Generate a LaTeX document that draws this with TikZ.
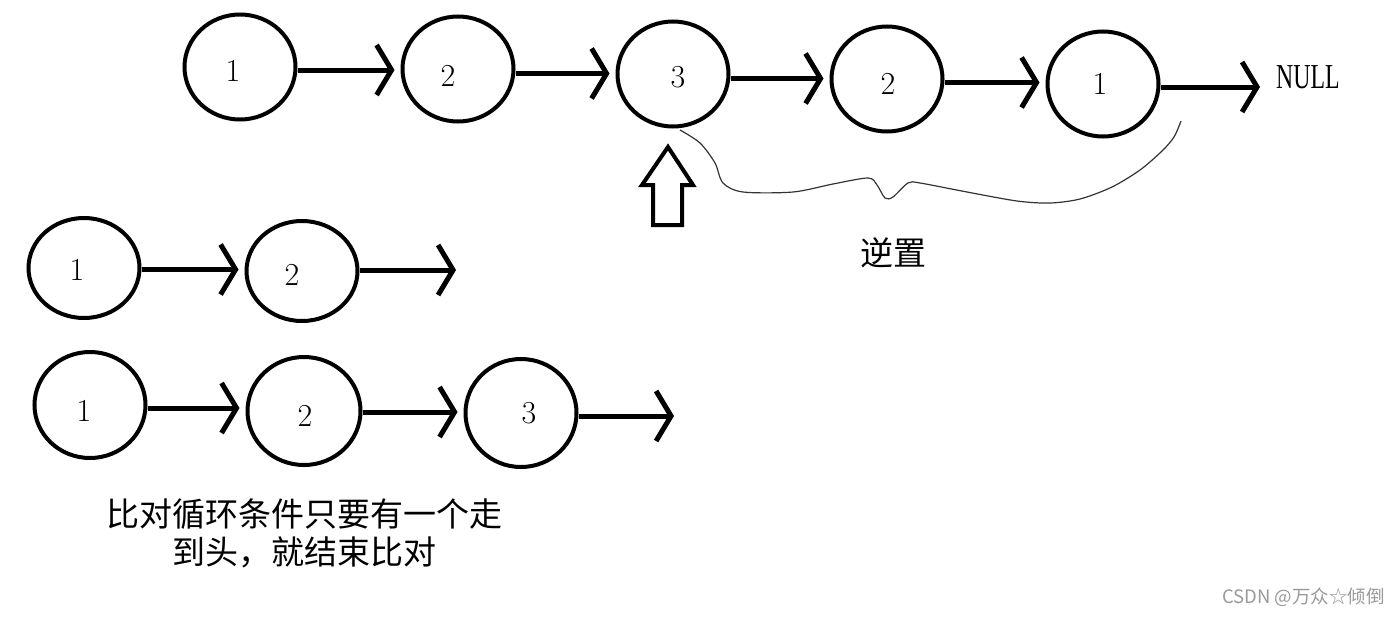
\documentclass[tikz,border=0pt]{standalone}
\usepackage{fontspec}
\setmainfont{Latin Modern Roman}
\newfontfamily\cjk{Noto Sans CJK SC}
\newfontfamily\narrowserif[FakeStretch=0.68]{Liberation Serif}
\usetikzlibrary{shapes.geometric,arrows.meta,calc}
\begin{document}
\begin{tikzpicture}[x=1pt,y=-1pt,
  nodebox/.style={ellipse,draw,line width=4pt,inner sep=0pt,
    minimum width=111pt,minimum height=105pt},
  digit/.style={font=\fontsize{32}{36}\selectfont,inner sep=0pt},
  link/.style={line width=5pt,shorten >=6pt,
    -{Straight Barb[length=15pt,width=50pt]}},
  tail/.style={line width=5pt,
    -{Straight Barb[length=15pt,width=50pt]}},
  cjktext/.style={font=\cjk\fontsize{33}{38}\selectfont,align=center,inner sep=0pt},
  brace/.style={line width=1.2pt,draw=black!80},
  hollow/.style={draw,line width=4pt,line join=miter,fill=white},
  wmark/.style={font=\cjk\fontsize{18.5}{22}\selectfont,text=black!40,inner sep=0pt}
]
\useasboundingbox (0,0) rectangle (1400,616);

% top row
\node[nodebox,label={[digit,xshift=-7pt,yshift=-4pt]center:1}] (a1) at (240,67) {};
\node[nodebox,label={[digit,xshift=-10pt,yshift=-7pt]center:2}] (a2) at (458,69) {};
\node[nodebox,label={[digit,xshift=5pt,yshift=-3pt]center:3}] (a3) at (673,74) {};
\node[nodebox,label={[digit,xshift=1pt,yshift=-5pt]center:2}] (a4) at (887,79) {};
\node[nodebox,label={[digit,xshift=-3pt,yshift=0pt]center:1}] (a5) at (1103,84) {};
\coordinate (aend) at (1260,87);
\node[font=\narrowserif\fontsize{35}{40}\selectfont,anchor=west,inner sep=0pt] (null) at (1276,77) {NULL};
\coordinate (m12) at ($(a1)!0.5!(a2)+(0,2)$);
\coordinate (m23) at ($(a2)!0.5!(a3)+(0,2)$);
\coordinate (m34) at ($(a3)!0.5!(a4)+(0,2)$);
\coordinate (m45) at ($(a4)!0.5!(a5)+(0,1)$);
\draw[link] (a1.east |- m12) -- (a2.west |- m12);
\draw[link] (a2.east |- m23) -- (a3.west |- m23);
\draw[link] (a3.east |- m34) -- (a4.west |- m34);
\draw[link] (a4.east |- m45) -- (a5.west |- m45);
\draw[tail] (a5.east |- aend) -- (aend);

% hollow up arrow
\draw[hollow] (668,147) -- (693,185) -- (682,185) -- (682,225) -- (653,225)
  -- (653,185) -- (642,185) -- cycle;

% brace-like curve
\draw[brace] plot[smooth,tension=0.5] coordinates {
  (680,130) (700,143) (715,163) (723,183) (743,192) (793,192) (833,184)
  (868,178) (877,185) (885,198) (893,197) (908,183) (920,183) (967,192)
  (1017,201) (1050,203) (1080,199) (1112,187) (1140,170) (1162,151)
  (1174,137) (1181,121)};
\node[cjktext] (rev) at (893,253) {逆置};

% middle row
\node[nodebox,minimum height=100pt,label={[digit,xshift=-7pt,yshift=-2pt]center:1}] (b1) at (84,268) {};
\node[nodebox,minimum height=100pt,label={[digit,xshift=-10pt,yshift=-4pt]center:2}] (b2) at (302,271) {};
\coordinate (bend) at (456,270);
\coordinate (m1b) at ($(b1)!0.5!(b2)$);
\draw[link] (b1.east |- m1b) -- (b2.west |- m1b);
\draw[tail] (b2.east |- bend) -- (bend);

% bottom row
\node[nodebox,minimum height=106pt,label={[digit,xshift=-6pt,yshift=-6pt]center:1}] (c1) at (90,405) {};
\node[nodebox,minimum width=113pt,minimum height=108pt,label={[digit,xshift=1pt,yshift=-5pt]center:2}] (c2) at (304,411) {};
\node[nodebox,minimum height=108pt,label={[digit,xshift=8pt,yshift=0pt]center:3}] (c3) at (521,413) {};
\coordinate (cend) at (674,416);
\coordinate (m1c) at ($(c1)!0.5!(c2)$);
\coordinate (m2c) at ($(c2)!0.5!(c3)$);
\draw[link] (c1.east |- m1c) -- (c2.west |- m1c);
\draw[link] (c2.east |- m2c) -- (c3.west |- m2c);
\draw[tail] (c3.east |- cend) -- (cend);

\node[cjktext] (note) at (304,533) {比对循环条件只要有一个走\\到头，就结束比对};

% watermark
\node[wmark,anchor=east] (wm) at (1385,597) {CSDN @万众☆倾倒};
\end{tikzpicture}
\end{document}
